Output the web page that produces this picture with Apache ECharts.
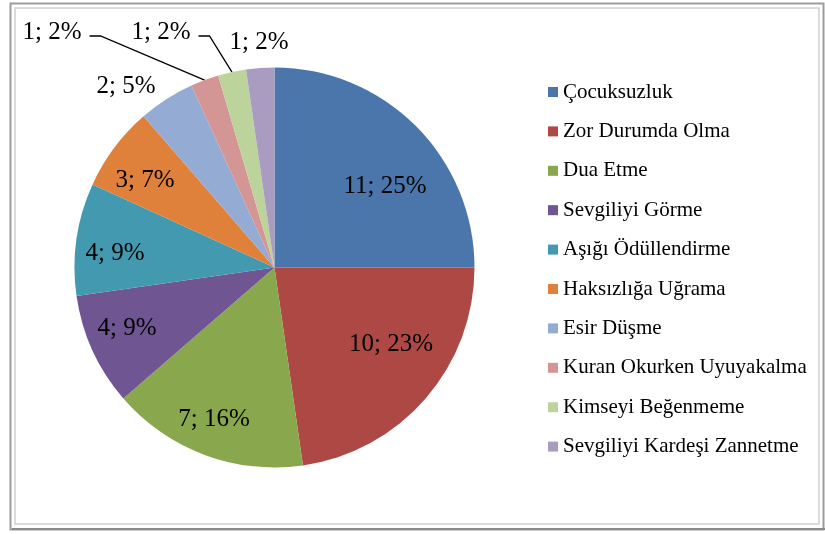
<!DOCTYPE html>
<html>
<head>
<meta charset="utf-8">
<script src="https://cdn.jsdelivr.net/npm/echarts@6/dist/echarts.min.js"></script>
<style>
  html, body { margin: 0; padding: 0; background: #fff; }
  #chart { width: 825px; height: 534px; }
</style>
</head>
<body>
<div id="chart"></div>
<script>
// veriler
var categories = ['Çocuksuzluk', 'Zor Durumda Olma', 'Dua Etme', 'Sevgiliyi Görme',
  'Aşığı Ödüllendirme', 'Haksızlığa Uğrama', 'Esir Düşme', 'Kuran Okurken Uyuyakalma',
  'Kimseyi Beğenmeme', 'Sevgiliyi Kardeşi Zannetme'];
var counts = [11, 10, 7, 4, 4, 3, 2, 1, 1, 1];
var colors = ['#4a76ab', '#ad4845', '#89a74c', '#6f5591', '#4399b0', '#e0813b',
  '#94abd4', '#d49694', '#bdd39c', '#aa9bc1'];

// etiket konumlari (Excel "best fit" yerlesimi)
var labelPos = [[385, 186], [391, 344], [214, 419], [127, 328], [115, 253],
  [145, 180], [126, 86], [52, 32], [161, 32], [259, 42]];
var leaderIdx = [7, 8];

var chart = echarts.init(document.getElementById('chart'));

var pieData = [];
for (var i = 0; i < categories.length; i++) {
  pieData.push({
    name: categories[i],
    value: counts[i],
    itemStyle: { color: colors[i] },
    labelLine: { show: leaderIdx.indexOf(i) >= 0 }
  });
}

var serif = "'Liberation Serif', 'Times New Roman', serif";

chart.setOption({
  animation: false,
  graphic: [
    { type: 'rect', shape: { x: 10.5, y: 3.5, width: 813, height: 526 },
      style: { fill: 'none', stroke: '#9c9c9c', lineWidth: 2 } },
    { type: 'rect', shape: { x: 15, y: 8, width: 804, height: 516 },
      style: { fill: 'none', stroke: '#cfcfcf', lineWidth: 1.5 } },
    { type: 'line', shape: { x1: 12, y1: 529, x2: 825, y2: 529 },
      style: { stroke: '#8a8a8a', lineWidth: 2 } }
  ],
  legend: {
    orient: 'vertical',
    left: 548,
    top: 81.5,
    padding: 0,
    icon: 'rect',
    itemWidth: 10,
    itemHeight: 10,
    itemGap: 18.4,
    data: categories,
    textStyle: { fontFamily: serif, fontSize: 21, color: '#000' }
  },
  series: [{
    type: 'pie',
    center: [274.5, 267.5],
    radius: 200,
    startAngle: 90,
    clockwise: true,
    avoidLabelOverlap: false,
    silent: true,
    data: pieData,
    label: {
      show: true,
      position: 'outside',
      color: '#000',
      fontFamily: serif,
      fontSize: 25,
      formatter: function (p) {
        return p.value + '; ' + Math.round(p.percent) + '%';
      }
    },
    labelLine: {
      length: 10,
      length2: 10,
      lineStyle: { color: '#000', width: 1.3 }
    },
    labelLayout: function (params) {
      var pos = labelPos[params.dataIndex];
      var out = { x: pos[0], y: pos[1], align: 'center', verticalAlign: 'middle' };
      if (leaderIdx.indexOf(params.dataIndex) >= 0 && params.labelLinePoints) {
        var start = params.labelLinePoints[0];
        var right = pos[0] + params.labelRect.width / 2;
        out.labelLinePoints = [
          [start[0], start[1]],
          [right + 19, pos[1] + 4],
          [right + 8, pos[1] + 4]
        ];
      }
      return out;
    }
  }]
});
</script>
</body>
</html>
